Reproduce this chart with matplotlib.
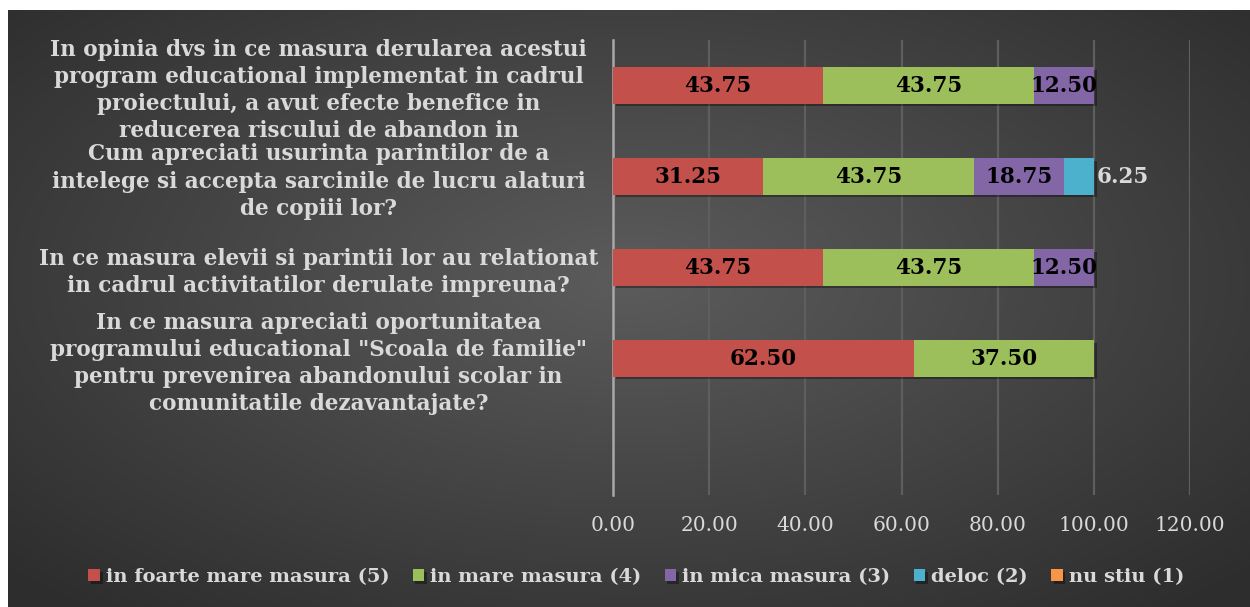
"""Survey results: stacked horizontal bars of answer shares per question."""
import matplotlib
matplotlib.use("Agg")
import matplotlib.pyplot as plt
import matplotlib.patheffects as pe
import numpy as np

# categories bottom -> top (the bottom slot is an empty category, as in the source sheet)
QUESTIONS = [
    "",
    "In ce masura apreciati oportunitatea\nprogramului educational \"Scoala de familie\"\n"
    "pentru prevenirea abandonului scolar in\ncomunitatile dezavantajate?",
    "In ce masura elevii si parintii lor au relationat\nin cadrul activitatilor derulate impreuna?",
    "Cum apreciati usurinta parintilor de a\nintelege si accepta sarcinile de lucru alaturi\nde copiii lor?",
    "In opinia dvs in ce masura derularea acestui\nprogram educational implementat in cadrul\n"
    "proiectului, a avut efecte benefice in\nreducerea riscului de abandon in",
]
SERIES = ["in foarte mare masura (5)", "in mare masura (4)", "in mica masura (3)",
          "deloc (2)", "nu stiu (1)"]
foarte_mare = [0, 62.50, 43.75, 31.25, 43.75]
mare = [0, 37.50, 43.75, 43.75, 43.75]
mica = [0, 0, 12.50, 18.75, 12.50]
deloc = [0, 0, 0, 6.25, 0]
nu_stiu = [0, 0, 0, 0, 0]
VALUES = [foarte_mare, mare, mica, deloc, nu_stiu]
COLORS = ["#c4504c", "#9dbf5b", "#8366a6", "#4bb1cc", "#f79646"]
XTICKS = [0, 20, 40, 60, 80, 100, 120]

FG = "#d9d9d9"
SERIF = "DejaVu Serif"

W, H = 1250, 607
fig = plt.figure(figsize=(W / 100, H / 100), dpi=100, facecolor="white")

# dark radial-gradient backdrop (white strip on top and left, like the screenshot)
bg = fig.add_axes([8 / W, 0, 1 - 8 / W, 1 - 10 / H], zorder=-5)
yy, xx = np.mgrid[0:1:300j, 0:1:600j]
r = np.sqrt(((xx - 0.5) / 0.75) ** 2 + ((yy - 0.45) / 0.8) ** 2)
shade = np.clip(0.36 - 0.20 * r, 0.18, 0.36)
bg.imshow(np.dstack([shade] * 3), aspect="auto", extent=[0, 1, 0, 1])
bg.set_axis_off()

ax = fig.add_axes([613 / W, 1 - 495 / H, (1190 - 613) / W, (495 - 40) / H])
ax.patch.set_alpha(0)

y = np.arange(len(QUESTIONS))
left = np.zeros(len(QUESTIONS))
shadow = [pe.SimplePatchShadow(offset=(2, -2), shadow_rgbFace="black", alpha=0.35), pe.Normal()]
for name, vals, col in zip(SERIES, VALUES, COLORS):
    vals = np.asarray(vals, dtype=float)
    bars = ax.barh(y, vals, left=left, height=0.4, color=col, label=name, zorder=3)
    for b, v in zip(bars, vals):
        b.set_path_effects(shadow)
        if v <= 0:
            continue
        cy = b.get_y() + b.get_height() / 2
        if v < 10:
            ax.text(b.get_x() + b.get_width() + 0.6, cy, f"{v:.2f}", ha="left", va="center",
                    color=FG, fontsize=15.5, fontweight="bold", family=SERIF, zorder=4)
        else:
            ax.text(b.get_x() + b.get_width() / 2, cy, f"{v:.2f}", ha="center", va="center",
                    color="black", fontsize=15.5, fontweight="bold", family=SERIF, zorder=4)
    left += vals

ax.set_xlim(0, 120)
ax.set_ylim(-0.5, len(QUESTIONS) - 0.5)
ax.set_xticks(XTICKS)
ax.set_xticklabels([f"{t:.2f}" for t in XTICKS], color=FG, fontsize=14.5, family=SERIF)
ax.set_yticks(y)
ax.set_yticklabels(QUESTIONS, color=FG, fontsize=15.5, fontweight="bold", family=SERIF,
                   ha="center", multialignment="center", linespacing=1.3)
ax.tick_params(axis="y", length=0, pad=212)
ax.tick_params(axis="x", length=0, pad=15)
ax.grid(axis="x", color="#5e5e5e", linewidth=1.6, zorder=0)
for s in ["top", "right", "bottom"]:
    ax.spines[s].set_visible(False)
ax.spines["left"].set_color("#a8a8a8")
ax.spines["left"].set_linewidth(1.8)
ax.spines["left"].set_zorder(2)

leg = fig.legend(loc="center", bbox_to_anchor=(636 / W, 1 - 577 / H), ncol=5, frameon=False,
                 handlelength=0.6, handleheight=0.6, handletextpad=0.3, columnspacing=1.2,
                 prop={"family": SERIF, "weight": "bold", "size": 14})
for t in leg.get_texts():
    t.set_color(FG)

fig.savefig("out.png", dpi=100, facecolor="white")
